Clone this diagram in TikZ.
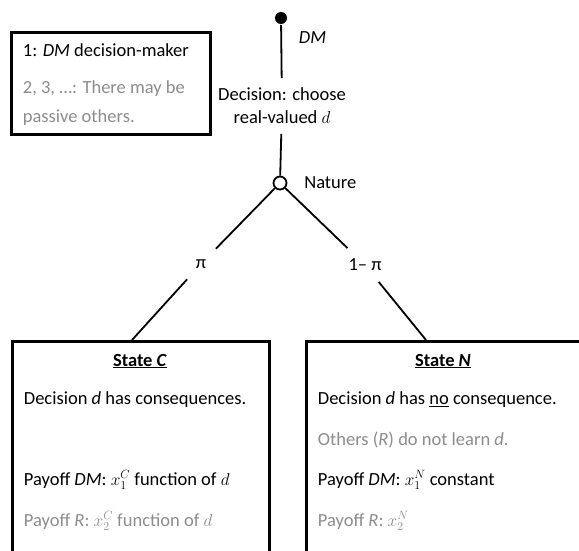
\documentclass[tikz,border=0pt]{standalone}
\usepackage{fontspec}
\setmainfont{Carlito}
\usetikzlibrary{positioning}
\definecolor{othergray}{RGB}{140,140,140}

\begin{document}
\begin{tikzpicture}[x=1pt,y=-1pt,line width=1.8pt,
	every node/.style={font=\fontsize{18.5}{23}\selectfont},
	dm node/.style={circle,fill=black,inner sep=0pt,minimum size=12pt},
	chance node/.style={circle,draw,fill=white,inner sep=0pt,minimum size=13pt},
	prob/.style={inner sep=10pt},
	state box/.style={draw,line width=2.5pt,anchor=north west,inner sep=0pt},
	line/.style={anchor=west,inner sep=0pt},
	passive/.style={text=othergray}]
	
	\useasboundingbox (0,0) rectangle (579,550);
	
	% legend
	\node[state box,line width=2.8pt,minimum width=199pt,minimum height=102pt] (legend) at (10,31) {};
	\node[line] (leg1) at (22,50) {1: \textit{DM} decision-maker};
	\node[line,passive] (leg2) at (22,89) {2, 3, …: There may be};
	\node[line,passive] (leg3) at (22,118) {passive others.};
	
	% tree
	\node[dm node] (dm) at (281,18) {};
	\node[line] (dmlbl) at (298,38) {\textit{DM}};
	\node[align=center,inner sep=9pt] (decision) at (282,106) {Decision: choose\\real-valued $d$};
	\node[chance node] (nature) at (280,183) {};
	\node[line] (naturelbl) [right=16pt of nature] {Nature};
	\node[prob] (pi) at (201,264) {π};
	\node[prob] (onempi) at (365,265) {1– π};
	
	% states
	\node[state box,minimum width=257pt,minimum height=240pt] (statec) at (11,340) {};
	\node[state box,minimum width=300pt,minimum height=240pt] (staten) at (305,340) {};
	\coordinate (ctop) at (132,340);
	\coordinate (ntop) at (426,340);
	
	\draw (dm) -- (decision) -- (nature);
	\draw (nature) -- (pi) -- (ctop);
	\draw (nature) -- (onempi) -- (ntop);
	
	\node (chead) at (140,361) {\textbf{\underline{State \textit{C}}}};
	\node[line] (c1) at (23,400) {Decision \textit{d} has consequences.};
	\node[line] (c2) at (23,480) {Payoff \textit{DM}: $x_1^C$ function of $d$};
	\node[line,passive] (c3) at (23,521) {Payoff \textit{R}: $x_2^C$ function of $d$};
	
	\node (nhead) at (443,361) {\textbf{\underline{State \textit{N}}}};
	\node[line] (n1) at (317,400) {Decision \textit{d} has \underline{no} consequence.};
	\node[line,passive] (n2) at (317,440) {Others (\textit{R}) do not learn \textit{d}.};
	\node[line] (n3) at (317,480) {Payoff \textit{DM}: $x_1^N$ constant};
	\node[line,passive] (n4) at (317,521) {Payoff \textit{R}: $x_2^N$};
\end{tikzpicture}
\end{document}
